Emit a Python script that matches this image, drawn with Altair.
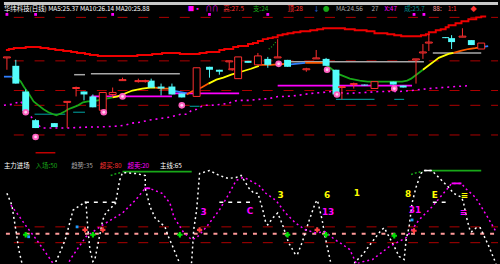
import altair as alt
import pandas as pd

CYAN = "#54fcfc"
RED = "#ff3030"
MAG = "#ff00ff"
GREEN = "#18a818"
YEL = "#ffff00"
ORANGE = "#ff5a00"
BLUE = "#2f7fff"
GRAY = "#a8a8a8"
TEAL = "#008c8c"
PINK = "#ff9a9a"
DRED = "#b00000"
WHITE = "#ffffff"

grid_top = [15, 59, 89, 104, 134]
grid_bottom = [227, 243]
zero_level = [234]

band_x = [2, 5, 10, 22, 37, 45, 52, 60, 68, 74, 82, 87, 95, 135, 150, 160, 178, 198, 205, 218,
          223, 232, 237, 247, 252, 257, 262, 267, 272, 277, 282, 287, 293, 300, 310, 317, 323,
          345, 355, 367, 375, 388, 395, 402, 422, 427, 430, 437, 442, 447, 450, 457, 463, 470,
          478, 483, 488]
band_y = [48, 47, 46, 45, 46, 47, 48, 49, 50, 51, 52, 53, 54, 53, 52, 51, 52, 51, 50, 48,
          47, 45, 44, 42, 41, 39, 37, 36, 35, 33, 32, 31, 30, 29, 28, 27, 26,
          27, 28, 29, 31, 32, 33, 34, 33, 32, 30, 28, 27, 25, 23, 21, 19, 17,
          15, 14, 14]

# falling candles (filled cyan): x, body top, body bottom, high, low
dn_x = [12, 22, 32, 51, 81, 90, 149, 159, 170, 180, 208, 218, 247, 267, 287, 326, 336, 365, 394, 404, 447, 453, 473]
dn_t = [64, 90, 119, 122, 90, 95, 79, 85, 85, 92, 65, 68, 59, 57, 58, 57, 68, 83, 80, 84, 35, 36, 38]
dn_b = [82, 110, 127, 126, 93, 106, 86, 87, 93, 96, 68, 70, 61, 63, 65, 64, 93, 84, 83, 86, 36, 40, 43]
dn_h = [58, 88, 118, 122, 90, 93, 77, 82, 82, 92, 65, 68, 59, 55, 58, 56, 68, 83, 80, 84, 35, 33, 38]
dn_l = [82, 113, 127, 126, 99, 106, 86, 94, 93, 96, 76, 73, 61, 66, 65, 64, 93, 84, 83, 86, 36, 47, 43]

# rising candles (hollow red)
up_x = [3, 64, 73, 100, 110, 120, 136, 143, 195, 228, 231, 237, 257, 277, 306, 316, 342, 354, 375, 417, 424, 430, 464, 483]
up_t = [55, 100, 86, 91, 91, 78, 79, 79, 66, 59, 67, 55, 54, 55, 67, 56, 85, 82, 80, 57, 50, 40, 34, 41]
up_b = [56, 101, 87, 109, 93, 79, 80, 80, 95, 60, 68, 77, 63, 56, 68, 57, 86, 83, 87, 58, 51, 41, 35, 47]
up_h = [55, 100, 85, 91, 86, 76, 77, 78, 66, 59, 67, 55, 51, 37, 66, 48, 85, 81, 80, 57, 42, 32, 26, 41]
up_l = [68, 127, 95, 109, 96, 79, 81, 81, 95, 67, 69, 77, 63, 55, 70, 57, 98, 87, 87, 82, 57, 49, 35, 47]

# coloured moving average, segment by segment
ma_segments = [
    (BLUE, [(0, 75), (8, 75)]),
    (ORANGE, [(8, 76), (13, 76)]),
    (GREEN, [(13, 76), (17, 80), (20, 85), (25, 92), (30, 100), (35, 104), (40, 108), (45, 111),
             (50, 113), (53, 114), (58, 112), (62, 110), (65, 108), (70, 106), (75, 104), (80, 101),
             (85, 100), (90, 100), (95, 99), (100, 98), (105, 97), (110, 96)]),
    (YEL, [(110, 96), (115, 95), (120, 93), (125, 91), (130, 89), (135, 88), (140, 87), (148, 86), (153, 86)]),
    (ORANGE, [(153, 86), (160, 87), (167, 87)]),
    (BLUE, [(167, 89), (175, 90), (185, 92)]),
    (ORANGE, [(185, 93), (190, 90), (195, 88), (200, 86), (207, 82)]),
    (YEL, [(207, 82), (215, 78), (222, 76), (230, 73), (240, 70), (250, 67), (258, 64)]),
    (ORANGE, [(258, 63), (270, 63), (285, 62)]),
    (BLUE, [(285, 63), (295, 62), (305, 61)]),
    (ORANGE, [(305, 61), (315, 61), (325, 61)]),
    (GREEN, [(325, 62), (330, 66), (335, 70), (340, 73), (345, 75), (350, 77), (355, 78), (360, 79),
             (368, 80), (375, 80), (385, 80), (395, 80), (403, 80), (408, 79), (412, 77), (416, 74),
             (420, 71), (424, 68)]),
    (YEL, [(424, 68), (428, 65), (432, 62), (436, 59), (440, 56), (445, 54), (450, 52), (455, 51)]),
    (ORANGE, [(455, 51), (462, 49), (470, 47), (477, 46), (483, 45)]),
    (BLUE, [(483, 45), (490, 44)]),
]

lower_band_x = [0, 8, 17, 22, 30, 38, 57, 63, 86, 95, 115, 123, 130, 138, 147, 160, 168, 175, 179,
                185, 190, 195, 202, 210, 220, 227, 232, 237, 248, 257, 269, 278, 286, 297, 310, 322,
                332, 347, 365, 380, 390, 400, 413, 430, 444, 457, 472]
lower_band_y = [104, 103, 100, 108, 119, 127, 127, 127, 126, 126, 125, 124, 122, 121, 119, 117, 116,
                114, 113, 113, 109, 108, 104, 104, 103, 102, 100, 99, 99, 98, 97, 95, 95, 94, 92, 91,
                90, 92, 91, 90, 90, 90, 89, 87, 86, 85, 84]

flower_x = [22, 32, 101, 120, 180, 278, 327, 337, 395]
flower_y = [111, 136, 111, 95, 104, 62, 68, 93, 87]

sq_x = [3, 32, 110, 208, 267, 415, 425]
sq_y = [12, 12, 12, 12, 12, 12, 12]

# horizontal level segments: x1, x2, y, colour, width
levels = [
    (71, 82, 73, GRAY, 1.5), (88, 178, 72, GRAY, 1.5), (285, 425, 60, GRAY, 1.5), (434, 483, 51, GRAY, 1.5),
    (31, 62, 113, TEAL, 1.2), (70, 82, 111, TEAL, 1.2), (188, 198, 105, TEAL, 1.2),
    (336, 375, 98, TEAL, 1.2), (395, 405, 98, TEAL, 1.2),
    (88, 170, 95, MAG, 1.8), (170, 238, 92, MAG, 1.8), (277, 413, 84, MAG, 1.8),
    (32, 52, 152, "#c00000", 1.5),
    (120, 190, 171, GREEN, 1.8), (433, 483, 170, GREEN, 1.8),
    (142, 148, 188, MAG, 1.8), (453, 463, 183, MAG, 1.8), (425, 433, 170, WHITE, 1.5),
]

# oscillator lines (lower panel)
k_x = [3, 8, 12, 15, 18, 22, 50, 53, 55, 62, 70, 82, 83, 85, 87, 90, 92, 100, 103, 113, 117, 120, 133,
       143, 143, 148, 153, 163, 166, 170, 177, 180, 188, 190, 192, 195, 198, 208, 218, 227, 235, 240,
       248, 253, 257, 262, 265, 267, 272, 277, 282, 288, 295, 297, 302, 308, 315, 317, 318, 322, 325,
       330, 333, 352, 355, 363, 372, 382, 385, 387, 393, 400, 405, 407, 410, 413, 417, 422, 425, 433,
       435, 440, 445, 450, 455, 463, 465, 468, 472, 473, 478, 482, 490, 497, 500]
k_y = [193, 205, 230, 250, 263, 280, 280, 260, 257, 240, 210, 202, 203, 230, 250, 262, 260, 220, 213,
       203, 180, 172, 173, 175, 188, 207, 218, 227, 236, 245, 262, 275, 275, 262, 230, 210, 173, 170,
       175, 178, 177, 175, 188, 193, 193, 210, 223, 225, 218, 213, 225, 243, 255, 255, 242, 223, 203,
       200, 203, 220, 237, 260, 275, 275, 263, 255, 243, 230, 228, 232, 243, 257, 260, 240, 227, 203,
       187, 173, 170, 170, 172, 177, 182, 187, 193, 197, 202, 217, 232, 232, 228, 228, 245, 262, 270]

d_x = [7, 13, 23, 33, 47, 55, 62, 67, 83, 100, 120, 133, 143, 147, 160, 168, 172, 182, 190, 195, 205,
       218, 228, 235, 242, 245, 258, 265, 275, 285, 295, 305, 315, 325, 335, 340, 350, 357, 360, 373,
       390, 407, 420, 433, 450, 453, 463, 467, 477, 482, 490, 498]
d_y = [205, 213, 227, 240, 260, 272, 272, 260, 237, 225, 213, 200, 188, 188, 193, 203, 217, 233, 240,
       238, 227, 210, 193, 180, 177, 178, 185, 193, 200, 213, 223, 230, 233, 232, 240, 243, 250, 265,
       263, 260, 247, 238, 220, 207, 187, 183, 183, 188, 197, 205, 218, 232]

white_dash = [(82, 113, 202), (218, 252, 202), (434, 447, 202)]
green_lead = [(108, 175), (114, 173), (119, 172)]
green_lead2 = [(412, 174), (418, 172), (424, 171)]

buy_x = [22, 90, 178, 287, 326, 395]
buy_y = [235, 235, 235, 235, 235, 236]
sell_x = [82, 100, 198, 317, 415]
sell_y = [230, 230, 230, 230, 231]

cyan_mark_x = [25, 74, 413]
cyan_mark_y = [237, 227, 220]

glyphs = [
    (280, 195, "3", YEL), (327, 195, "6", YEL), (357, 193, "1", YEL), (409, 194, "8", YEL),
    (436, 195, "E", YEL), (466, 195, "≡", YEL),
    (202, 212, "3", MAG), (249, 211, "C", MAG), (328, 212, "13", MAG), (416, 210, "31", MAG),
    (465, 212, "≡", MAG),
]

head_top = [
    (0, "华纬科技(日线) MA5:25.37 MA10:26.14 MA20:25.88", WHITE),
    (186, "■▪", MAG), (204, "∩∩", MAG), (222, "高:27.5", RED), (252, "支:24", GREEN),
    (287, "顶:28", RED), (313, "↓", BLUE), (323, "●", GREEN), (336, "MA:24.56", GRAY),
    (372, "27", GRAY), (385, "X:47", MAG), (405, "成:25.7", TEAL), (434, "88:", PINK),
    (449, "1:1", RED), (472, "◆", RED),
]
head_bottom = [
    (0, "主力进场", WHITE), (32, "入场:50", GREEN), (68, "趋势:35", GRAY),
    (97, "超买:80", RED), (125, "超卖:20", MAG), (158, "主线:65", WHITE),
]

# ---------------- chart ----------------
xs = alt.Scale(domain=[0, 500], nice=False, zero=False)
ys = alt.Scale(domain=[0, 264], nice=False, zero=False, reverse=True)


def X(f="x"):
    return alt.X(f"{f}:Q", scale=xs, axis=None)


def Y(f="y"):
    return alt.Y(f"{f}:Q", scale=ys, axis=None)


layers = []

# window strip
layers.append(alt.Chart(pd.DataFrame({"y": [1]})).mark_rule(color="#c8c8c8", strokeWidth=3)
              .encode(y=Y(), x=alt.value(0), x2=alt.value(500)))

# dotted dark red grid
grid_df = pd.DataFrame({"y": grid_top + grid_bottom})
layers.append(alt.Chart(grid_df).mark_rule(color=DRED, strokeWidth=1, strokeDash=[10, 11], strokeDashOffset=11)
              .encode(y=Y(), x=alt.value(0), x2=alt.value(500)))
layers.append(alt.Chart(pd.DataFrame({"y": zero_level})).mark_rule(color=PINK, strokeWidth=2, strokeDash=[4, 6], strokeDashOffset=8)
              .encode(y=Y(), x=alt.value(0), x2=alt.value(500)))

# level segments
lv = pd.DataFrame(levels, columns=["x", "x2", "y", "c", "w"])
layers.append(alt.Chart(lv).mark_rule().encode(
    x=X(), x2="x2:Q", y=Y(), color=alt.Color("c:N", scale=None),
    strokeWidth=alt.StrokeWidth("w:Q", scale=None)))
wd = pd.DataFrame(white_dash, columns=["x", "x2", "y"])
layers.append(alt.Chart(wd).mark_rule(color=WHITE, strokeWidth=1.5, strokeDash=[4, 5])
              .encode(x=X(), x2="x2:Q", y=Y()))

# upper band
band = pd.DataFrame({"x": band_x, "y": band_y})
layers.append(alt.Chart(band).mark_line(color="#ee0000", strokeWidth=2, interpolate="step-after")
              .encode(x=X(), y=Y()))

# lower dotted band
lb = pd.DataFrame({"x": lower_band_x, "y": lower_band_y})
layers.append(alt.Chart(lb).mark_line(color=MAG, strokeWidth=1.6, strokeDash=[2, 4])
              .encode(x=X(), y=Y()))

# moving average segments
rows = []
for si, (c, pts) in enumerate(ma_segments):
    for i, (x, y) in enumerate(pts):
        rows.append({"seg": si, "i": i, "x": x, "y": y, "c": c})
ma = pd.DataFrame(rows)
layers.append(alt.Chart(ma).mark_line(strokeWidth=1.8).encode(
    x=X(), y=Y(), detail="seg:N", order="i:Q", color=alt.Color("c:N", scale=None)))

# green dotted stub
gd = pd.DataFrame({"x": [268, 272, 275], "y": [47, 44, 40]})
layers.append(alt.Chart(gd).mark_line(color=GREEN, strokeWidth=1.2, strokeDash=[1, 2]).encode(x=X(), y=Y()))

# candles
dn = pd.DataFrame({"x": dn_x, "t": dn_t, "b": dn_b, "h": dn_h, "l": dn_l})
up = pd.DataFrame({"x": up_x, "t": up_t, "b": up_b, "h": up_h, "l": up_l})
layers.append(alt.Chart(dn).mark_rule(color=CYAN, strokeWidth=1).encode(x=X(), y=Y("h"), y2="l:Q"))
layers.append(alt.Chart(dn).transform_calculate(x1="datum.x - 3.5", x2="datum.x + 3.5")
              .mark_rect(color=CYAN).encode(x=X("x1"), x2="x2:Q", y=Y("t"), y2="b:Q"))
layers.append(alt.Chart(up).mark_rule(color=RED, strokeWidth=1).encode(x=X(), y=Y("h"), y2="l:Q"))
layers.append(alt.Chart(up).transform_calculate(x1="datum.x - 3.5", x2="datum.x + 3.5")
              .mark_rect(fill="#000000", stroke=RED, strokeWidth=1)
              .encode(x=X("x1"), x2="x2:Q", y=Y("t"), y2="b:Q"))

# flower markers
fl = pd.DataFrame({"x": flower_x, "y": flower_y})
layers.append(alt.Chart(fl).mark_point(shape="circle", filled=True, size=45, color="#ff5fbf", opacity=1)
              .encode(x=X(), y=Y()))
layers.append(alt.Chart(fl).mark_point(shape="circle", filled=True, size=8, color="#ffd0f0", opacity=1)
              .encode(x=X(), y=Y()))
sq = pd.DataFrame({"x": sq_x, "y": sq_y})
layers.append(alt.Chart(sq).mark_square(size=8, color=MAG, opacity=1).encode(x=X(), y=Y()))

# oscillator lines
kd = pd.DataFrame({"x": k_x, "y": k_y, "i": range(len(k_x))})
layers.append(alt.Chart(kd).mark_line(color=WHITE, strokeWidth=1.5, strokeDash=[2, 3], clip=True)
              .encode(x=X(), y=Y(), order="i:Q"))
dd = pd.DataFrame({"x": d_x, "y": d_y, "i": range(len(d_x))})
layers.append(alt.Chart(dd).mark_line(color=MAG, strokeWidth=1.5, strokeDash=[2, 3], clip=True)
              .encode(x=X(), y=Y(), order="i:Q"))
for pts in (green_lead, green_lead2):
    g = pd.DataFrame(pts, columns=["x", "y"])
    layers.append(alt.Chart(g).mark_line(color=GREEN, strokeWidth=1.5, strokeDash=[2, 2]).encode(x=X(), y=Y()))

# signals
bs = pd.DataFrame({"x": buy_x, "y": buy_y})
layers.append(alt.Chart(bs).mark_point(shape="cross", filled=True, size=30, color="#00e000", opacity=1)
              .encode(x=X(), y=Y()))
ss = pd.DataFrame({"x": sell_x, "y": sell_y})
layers.append(alt.Chart(ss).mark_point(shape="cross", filled=True, size=28, color="#ff4040", opacity=1)
              .encode(x=X(), y=Y()))
cm = pd.DataFrame({"x": cyan_mark_x, "y": cyan_mark_y})
layers.append(alt.Chart(cm).mark_square(size=8, color="#20a0ff", opacity=1).encode(x=X(), y=Y()))

gl = pd.DataFrame(glyphs, columns=["x", "y", "t", "c"])
layers.append(alt.Chart(gl).mark_text(fontSize=9, fontWeight="bold", font="DejaVu Sans")
              .encode(x=X(), y=Y(), text="t:N", color=alt.Color("c:N", scale=None)))

# headers
ht = pd.DataFrame(head_top, columns=["x", "t", "c"]).assign(y=7)
hb = pd.DataFrame(head_bottom, columns=["x", "t", "c"]).assign(y=165)
for df in (ht, hb):
    layers.append(alt.Chart(df).mark_text(align="left", baseline="middle", fontSize=6.5,
                                          font="Noto Sans CJK SC")
                  .encode(x=X(), y=Y(), text="t:N", color=alt.Color("c:N", scale=None)))

chart = alt.layer(*layers).properties(
    width=500, height=264, background="#000000", padding=0
).configure_view(strokeWidth=0)

chart.save("out.html", embed_options={"renderer": "svg", "actions": False})
